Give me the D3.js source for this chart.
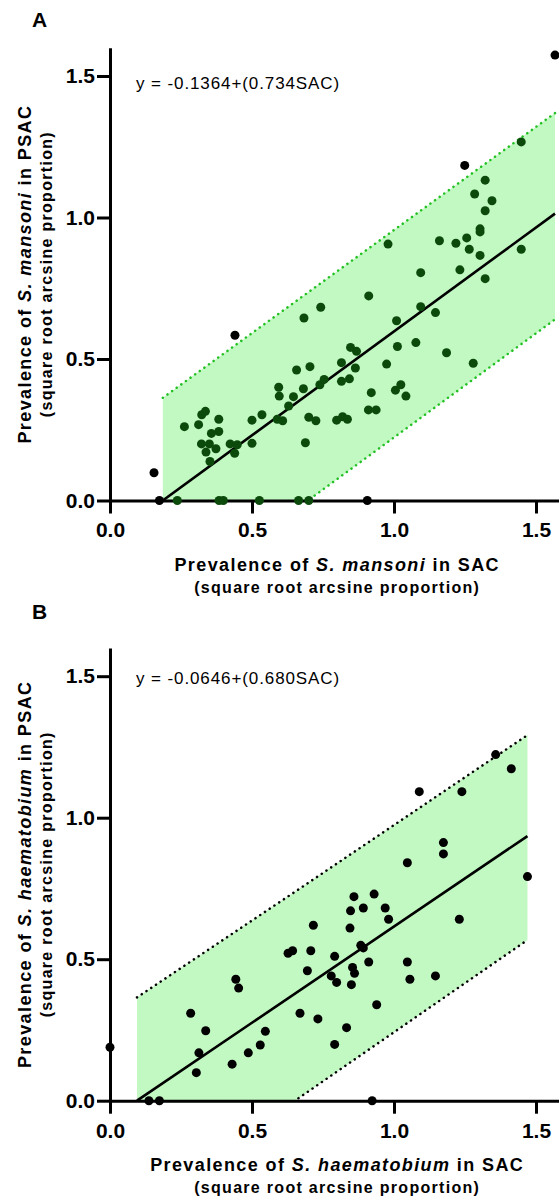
<!DOCTYPE html>
<html>
<head>
<meta charset="utf-8">
<script src="https://cdn.jsdelivr.net/npm/d3@7"></script>
<style>
  html, body { margin: 0; padding: 0; background: #fff; }
  svg { display: block; font-family: "Liberation Sans", Arial, sans-serif; }
</style>
</head>
<body>
<svg id="fig" width="559" height="1196"></svg>
<script>
// ---- shared axis ticks ----
const xTicks = [0.0, 0.5, 1.0, 1.5];
const yTicks = [0.0, 0.5, 1.0, 1.5];

// ---- Panel A: S. mansoni (SAC vs PSAC, square root arcsine proportion) ----
// sites inside the 95% prediction band
const mansoniSAC = [0.237, 0.384, 0.399, 0.526, 0.664, 0.700, 0.262, 0.312, 0.323, 0.336, 0.383, 0.357,
  0.383, 0.322, 0.350, 0.373, 0.338, 0.352, 0.423, 0.448, 0.439, 0.500, 0.500, 0.535, 0.594, 0.596,
  0.589, 0.608, 0.629, 0.646, 0.681, 0.657, 0.704, 0.683, 0.742, 0.688, 0.700, 0.725, 0.739, 0.754,
  0.815, 0.843, 0.815, 0.847, 0.868, 0.864, 0.798, 0.819, 0.836, 0.910, 0.937, 0.920, 0.974, 1.005,
  1.024, 1.042, 1.012, 1.077, 1.185, 1.279, 1.009, 1.094, 1.146, 0.911, 1.094, 1.232, 1.321, 0.979,
  1.160, 1.218, 1.256, 1.265, 1.303, 1.303, 1.303, 1.321, 1.345, 1.284, 1.321, 1.448, 1.448];
const mansoniPSAC = [0.000, 0.000, 0.000, 0.000, 0.000, 0.000, 0.261, 0.268, 0.303, 0.315, 0.287, 0.237,
  0.244, 0.200, 0.200, 0.183, 0.171, 0.138, 0.200, 0.197, 0.167, 0.202, 0.284, 0.303, 0.400, 0.369,
  0.287, 0.282, 0.334, 0.367, 0.395, 0.461, 0.473, 0.645, 0.683, 0.204, 0.294, 0.282, 0.409, 0.428,
  0.421, 0.430, 0.487, 0.541, 0.527, 0.468, 0.284, 0.296, 0.287, 0.320, 0.320, 0.381, 0.482, 0.390,
  0.409, 0.369, 0.544, 0.558, 0.522, 0.485, 0.635, 0.685, 0.664, 0.723, 0.805, 0.815, 0.784, 0.906,
  0.918, 0.909, 0.928, 0.888, 0.866, 0.960, 0.949, 1.024, 1.059, 1.083, 1.132, 1.267, 0.888];
// sites outside the prediction band
const mansoniOutSAC  = [0.155, 0.174, 0.906, 0.440, 1.249, 1.567];
const mansoniOutPSAC = [0.098, 0.000, 0.000, 0.584, 1.184, 1.574];
// fitted line and prediction band
const mansoniFit = { intercept: -0.1364, slope: 0.734, xMax: 1.567 };
const mansoniBandX     = [0.186, 0.697, 1.567];
const mansoniBandUpper = [0.363, 0.735, 1.369];
const mansoniBandLower = [-0.375, 0.000, 0.640];

// ---- Panel B: S. haematobium ----
const haemSAC = [0.000, 0.137, 0.174, 0.284, 0.337, 0.313, 0.304, 0.443, 0.453, 0.430, 0.487, 0.529,
  0.547, 0.627, 0.643, 0.707, 0.716, 0.695, 0.669, 0.732, 0.791, 0.779, 0.798, 0.833, 0.791, 0.847,
  0.859, 0.892, 0.930, 0.969, 0.981, 0.845, 0.883, 0.892, 0.854, 0.861, 0.850, 0.911, 0.939, 0.923,
  1.047, 1.047, 1.056, 1.146, 1.174, 1.174, 1.230, 1.470, 1.089, 1.239, 1.358, 1.413];
const haemPSAC = [0.189, 0.000, 0.000, 0.309, 0.247, 0.169, 0.099, 0.429, 0.398, 0.129, 0.169, 0.197,
  0.245, 0.521, 0.530, 0.530, 0.620, 0.459, 0.309, 0.289, 0.510, 0.441, 0.418, 0.258, 0.199, 0.671,
  0.721, 0.681, 0.730, 0.681, 0.641, 0.610, 0.549, 0.540, 0.471, 0.450, 0.410, 0.490, 0.339, 0.000,
  0.841, 0.490, 0.429, 0.441, 0.912, 0.872, 0.641, 0.792, 1.092, 1.092, 1.223, 1.173];
const haemFit = { intercept: -0.0646, slope: 0.680, xMax: 1.470 };
const haemBandX     = [0.095, 0.651, 1.470];
const haemBandUpper = [0.365, 0.738, 1.292];
const haemBandLower = [-0.370, 0.000, 0.568];

const svg = d3.select("#fig");
const fmt = d3.format(".1f");

function drawPanel(cfg) {
  const x = d3.scaleLinear().domain([0, 1.6]).range([110, 110 + 284 * 1.6]);
  const y = d3.scaleLinear().domain([0, 1.6]).range([cfg.y0, cfg.y0 - 283 * 1.6]);
  const g = svg.append("g");

  // clip region: the plotting area above the x axis
  const clipId = "clip-" + cfg.id;
  svg.append("clipPath").attr("id", clipId)
    .append("rect")
    .attr("x", x(0)).attr("y", y(1.6))
    .attr("width", x(1.6) - x(0)).attr("height", y(0) - y(1.6));

  const band = cfg.bandX.map((bx, i) => ({ x: bx, lo: cfg.bandLower[i], hi: cfg.bandUpper[i] }));
  const plot = g.append("g").attr("clip-path", `url(#${clipId})`);

  plot.append("path")
    .datum(band)
    .attr("fill", "#c2f8c2")
    .attr("d", d3.area().x(d => x(d.x)).y0(d => y(d.lo)).y1(d => y(d.hi)));

  ["hi", "lo"].forEach(k => {
    plot.append("path")
      .datum(band)
      .attr("fill", "none")
      .attr("stroke", cfg.dotColor)
      .attr("stroke-width", 2.5)
      .attr("stroke-linecap", "round")
      .attr("stroke-dasharray", "0.1 5.6")
      .attr("d", d3.line().x(d => x(d.x)).y(d => y(d[k])));
  });

  // regression line from its x-intercept to the largest SAC value
  const x0 = -cfg.fit.intercept / cfg.fit.slope;
  const fitPts = [x0, cfg.fit.xMax].map(v => ({ x: v, y: cfg.fit.intercept + cfg.fit.slope * v }));
  plot.append("path")
    .datum(fitPts)
    .attr("fill", "none")
    .attr("stroke", "#000")
    .attr("stroke-width", 2.6)
    .attr("d", d3.line().x(d => x(d.x)).y(d => y(d.y)));

  // axes
  const xAxis = g.append("g").attr("transform", `translate(0,${y(0)})`)
    .call(d3.axisBottom(x).tickValues(xTicks).tickFormat(fmt).tickSize(13).tickSizeOuter(0).tickPadding(9));
  const yAxis = g.append("g").attr("transform", `translate(${x(0)},0)`)
    .call(d3.axisLeft(y).tickValues(yTicks).tickFormat(fmt).tickSize(13).tickSizeOuter(0).tickPadding(2));
  [xAxis, yAxis].forEach(a => {
    a.selectAll("path, line").attr("stroke", "#000").attr("stroke-width", 3);
    a.selectAll("text")
      .attr("fill", "#000")
      .style("font-family", '"Liberation Sans", Arial, sans-serif')
      .style("font-size", "21px")
      .style("font-weight", "bold");
  });

  // points
  const pts = cfg.sac.map((v, i) => ({ x: v, y: cfg.psac[i] }));
  g.append("g").selectAll("circle").data(pts).join("circle")
    .attr("cx", d => x(d.x)).attr("cy", d => y(d.y)).attr("r", 4.5)
    .attr("fill", cfg.pointColor);
  if (cfg.outSac) {
    const outPts = cfg.outSac.map((v, i) => ({ x: v, y: cfg.outPsac[i] }));
    g.append("g").selectAll("circle").data(outPts).join("circle")
      .attr("cx", d => x(d.x)).attr("cy", d => y(d.y)).attr("r", 4.5)
      .attr("fill", "#000");
  }

  // equation
  g.append("text")
    .attr("x", 136).attr("y", cfg.eqY)
    .style("font-size", "17px").style("letter-spacing", "0.9px")
    .text(cfg.equation);

  // panel letter
  g.append("text")
    .attr("x", 32).attr("y", cfg.letterY)
    .style("font-size", "21px").style("font-weight", "bold")
    .text(cfg.letter);

  // x title
  const cx = (x(0) + x(1.6)) / 2;
  const xt = g.append("text").attr("x", cx).attr("y", cfg.xTitleY)
    .attr("text-anchor", "middle")
    .style("font-size", "18px").style("font-weight", "bold").style("letter-spacing", "1.4px");
  xt.append("tspan").text("Prevalence of ");
  xt.append("tspan").style("font-style", "italic").text(cfg.species);
  xt.append("tspan").text(" in SAC");
  g.append("text").attr("x", cx).attr("y", cfg.xTitleY + 22)
    .attr("text-anchor", "middle")
    .style("font-size", "16px").style("font-weight", "bold").style("letter-spacing", "1.3px")
    .text("(square root arcsine proportion)");

  // y title
  const cy = (y(0) + y(1.6)) / 2;
  const yt = g.append("text")
    .attr("transform", `translate(31,${cy}) rotate(-90)`)
    .attr("text-anchor", "middle")
    .style("font-size", "18px").style("font-weight", "bold").style("letter-spacing", "1.4px");
  yt.append("tspan").text("Prevalence of ");
  yt.append("tspan").style("font-style", "italic").text(cfg.species);
  yt.append("tspan").text(" in PSAC");
  g.append("text")
    .attr("transform", `translate(52,${cy}) rotate(-90)`)
    .attr("text-anchor", "middle")
    .style("font-size", "16px").style("font-weight", "bold").style("letter-spacing", "1.3px")
    .text("(square root arcsine proportion)");
}

drawPanel({
  id: "a", letter: "A", letterY: 27, y0: 500.5,
  sac: mansoniSAC, psac: mansoniPSAC, outSac: mansoniOutSAC, outPsac: mansoniOutPSAC,
  pointColor: "#0b4a0b", dotColor: "#22c022",
  fit: mansoniFit, bandX: mansoniBandX, bandUpper: mansoniBandUpper, bandLower: mansoniBandLower,
  equation: "y = -0.1364+(0.734SAC)", eqY: 89,
  species: "S. mansoni", xTitleY: 571
});

drawPanel({
  id: "b", letter: "B", letterY: 619, y0: 1100.7,
  sac: haemSAC, psac: haemPSAC, outSac: null,
  pointColor: "#000", dotColor: "#000",
  fit: haemFit, bandX: haemBandX, bandUpper: haemBandUpper, bandLower: haemBandLower,
  equation: "y = -0.0646+(0.680SAC)", eqY: 684,
  species: "S. haematobium", xTitleY: 1171
});
</script>
</body>
</html>
